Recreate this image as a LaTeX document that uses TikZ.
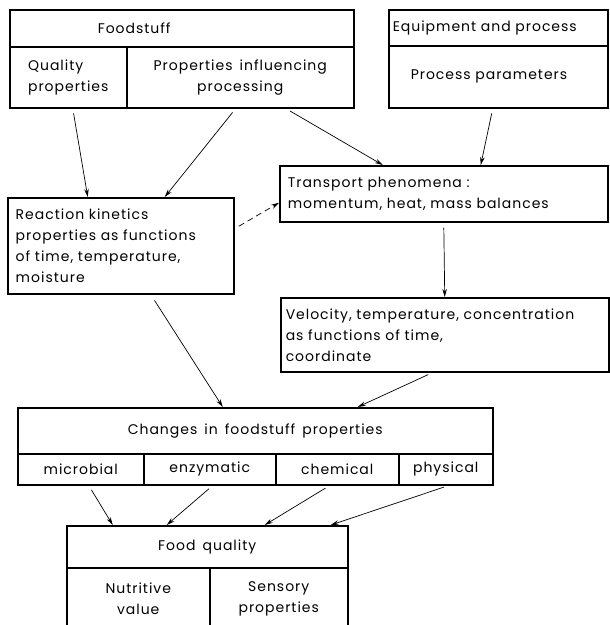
\documentclass[tikz,border=0pt]{standalone}
\usepackage{fontspec}
\setmainfont[LetterSpace=7,WordSpace=1.5]{Poppins}
\usetikzlibrary{arrows.meta}

\begin{document}
\begin{tikzpicture}[
  x=1pt, y=-1pt,
  cell/.style={draw, line width=1.5pt, anchor=north west, inner sep=0pt,
               align=center, font=\fontsize{14}{21}\selectfont},
  leftcell/.style={cell, align=left, inner xsep=8pt},
  arr/.style={-{Stealth[length=8pt,width=4.5pt]}, line width=0.7pt,
              shorten <=5pt},
  dasharr/.style={arr, dash pattern=on 6pt off 4pt}
]
  \useasboundingbox (0,0) rectangle (610,625);

  % Inputs
  \node[leftcell, inner xsep=88pt, text width=168pt, minimum height=37pt]
    (food) at (9,9) {Foodstuff};
  \node[cell, align=left, minimum width=117pt, minimum height=61pt] (qual)
    at (9,46) {Quality\\properties};
  \node[cell, minimum width=227pt, minimum height=61pt] (infl) at (126,46)
    {Properties influencing\\processing};
  \node[leftcell, inner xsep=4pt, text width=211pt, minimum height=36pt]
    (equip) at (388,9) {Equipment and process};
  \node[leftcell, inner xsep=22pt, text width=175pt, minimum height=62pt]
    (param) at (388,45) {Process parameters};

  % Models
  \node[leftcell, text width=210pt, minimum height=96pt] (react) at (7,197)
    {Reaction kinetics\\properties as functions\\of time, temperature,\\moisture};
  \node[leftcell, text width=312pt, minimum height=56pt] (trans) at (279,165)
    {Transport phenomena :\\momentum, heat, mass balances};
  \node[leftcell, inner xsep=5pt, text width=318pt, minimum height=74pt]
    (veloc) at (280,297)
    {Velocity, temperature, concentration\\as functions of time,\\coordinate};

  % Changes
  \node[cell, minimum width=475pt, minimum height=46pt] (change) at (17,407)
    {Changes in foodstuff properties};
  \node[cell, minimum width=126pt, minimum height=31pt] (micro) at (17,453)
    {microbial};
  \node[cell, minimum width=132pt, minimum height=31pt] (enzym) at (143,453)
    {enzymatic};
  \node[cell, minimum width=123pt, minimum height=31pt] (chem) at (275,453)
    {chemical};
  \node[cell, minimum width=94pt, minimum height=31pt] (phys) at (398,453)
    {physical};

  % Result
  \node[cell, minimum width=281pt, minimum height=42pt] (quality) at (66,525)
    {Food quality};
  \node[cell, minimum width=143pt, minimum height=62pt] (nutri) at (66,567)
    {Nutritive\\value};
  \node[cell, minimum width=138pt, minimum height=62pt] (sensor) at (209,567)
    {Sensory\\properties};

  % Connections
  \draw[arr] ([xshift=4.5pt]qual.south)   -- ([xshift=-33pt]react.north);
  \draw[arr] ([xshift=-4.5pt]infl.south)  -- ([xshift=44pt]react.north);
  \draw[arr] ([xshift=45.5pt]infl.south)  -- ([xshift=-61pt]trans.north);
  \draw[arr] ([xshift=-5.5pt]param.south) -- ([xshift=37pt]trans.north);
  \draw[dasharr] ([yshift=17pt]react.east) -- ([yshift=-9pt]trans.west);
  \draw[arr] (trans.south) -- (veloc.north);
  \draw[arr, shorten <=7pt] ([xshift=30pt]react.south)
    -- ([xshift=-32.5pt]change.north);
  \draw[arr] ([xshift=-12pt]veloc.south)  -- ([xshift=102.5pt]change.north);

  \foreach \src/\dx/\ex in {micro/8/-94.5, enzym/3/-40.5,
                            chem/-7.5/57.5, phys/3/123.5}
    \draw[arr] ([xshift=\dx pt]\src.south) -- ([xshift=\ex pt]quality.north);
\end{tikzpicture}
\end{document}
